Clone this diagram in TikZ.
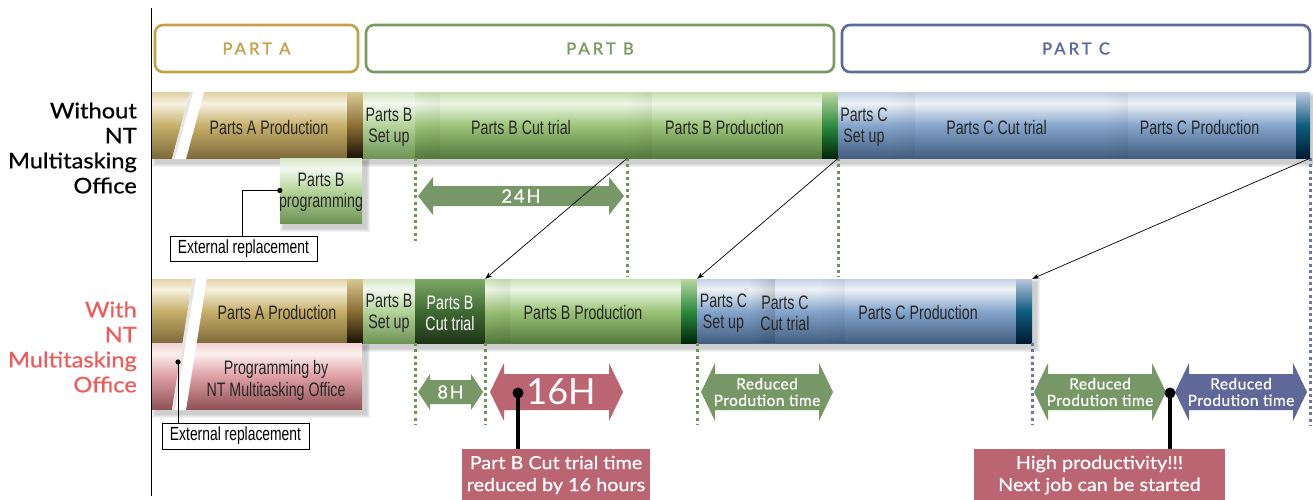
\documentclass[tikz,border=0pt]{standalone}
\usepackage{fontspec}
\setmainfont{Lato}
\newfontfamily\condfont[FakeStretch=0.73]{Liberation Sans}
\newfontfamily\wfont[FakeStretch=1.1, FakeBold=0.6]{Lato}
\newfontfamily\hfont[LetterSpace=19, FakeBold=1.6]{Lato}
\newfontfamily\afont[LetterSpace=3, FakeBold=0.5]{Lato}
\newfontfamily\nfont[LetterSpace=10, FakeBold=0.6]{Lato}
\usetikzlibrary{fadings,arrows.meta}
\definecolor{hgold}{HTML}{C4A24B}
\definecolor{hgreen}{HTML}{7A9A60}
\definecolor{hblue}{HTML}{5C6A9C}
\definecolor{garrow}{HTML}{789767}
\definecolor{barrow}{HTML}{5F6898}
\definecolor{rose}{HTML}{BB6573}
\definecolor{lred}{HTML}{EE5B5B}
\definecolor{gdotc}{HTML}{6E9457}
\definecolor{bdotc}{HTML}{6B73A8}
% gold
\definecolor{goA}{HTML}{7E6A3A}\definecolor{goB}{HTML}{C7B06A}\definecolor{goC}{HTML}{F7F1E0}\definecolor{goD}{HTML}{E2D4A8}
% light green
\definecolor{lgA}{HTML}{6E9456}\definecolor{lgB}{HTML}{B5D39A}\definecolor{lgC}{HTML}{F3F8EE}\definecolor{lgD}{HTML}{D5E6C6}
% main green
\definecolor{mgA}{HTML}{557A3E}\definecolor{mgB}{HTML}{9CC478}\definecolor{mgC}{HTML}{EEF6E6}\definecolor{mgD}{HTML}{C9E0B4}
% blue
\definecolor{blA}{HTML}{435E80}\definecolor{blB}{HTML}{85A5CB}\definecolor{blC}{HTML}{EEF2F8}\definecolor{blD}{HTML}{C4D2E6}
% pink
\definecolor{pkA}{HTML}{8F5256}\definecolor{pkB}{HTML}{DFA0A5}\definecolor{pkC}{HTML}{FCEFEF}\definecolor{pkD}{HTML}{F2D0D0}
% dark ends
\definecolor{dgoA}{HTML}{1A1206}\definecolor{dgoB}{HTML}{8A6E35}\definecolor{dgoC}{HTML}{D9C790}
\definecolor{dgrA}{HTML}{00260A}\definecolor{dgrB}{HTML}{2E8B3E}\definecolor{dgrC}{HTML}{B9D69E}
\definecolor{dblA}{HTML}{001A33}\definecolor{dblB}{HTML}{0F5C7E}\definecolor{dblC}{HTML}{B7C6DE}
\definecolor{dcA}{HTML}{1E3417}\definecolor{dcB}{HTML}{3F6A33}\definecolor{dcC}{HTML}{7FA868}
\pgfdeclareverticalshading{goldsh}{100bp}{color(0bp)=(goA);color(25bp)=(goA);color(50bp)=(goB);color(67bp)=(goC);color(75bp)=(goD);color(100bp)=(goD)}
\pgfdeclareverticalshading{lgreensh}{100bp}{color(0bp)=(lgA);color(25bp)=(lgA);color(50bp)=(lgB);color(67bp)=(lgC);color(75bp)=(lgD);color(100bp)=(lgD)}
\pgfdeclareverticalshading{greensh}{100bp}{color(0bp)=(mgA);color(25bp)=(mgA);color(50bp)=(mgB);color(67bp)=(mgC);color(75bp)=(mgD);color(100bp)=(mgD)}
\pgfdeclareverticalshading{bluesh}{100bp}{color(0bp)=(blA);color(25bp)=(blA);color(50bp)=(blB);color(67bp)=(blC);color(75bp)=(blD);color(100bp)=(blD)}
\pgfdeclareverticalshading{pinksh}{100bp}{color(0bp)=(pkA);color(25bp)=(pkA);color(50bp)=(pkB);color(67bp)=(pkC);color(75bp)=(pkD);color(100bp)=(pkD)}
\pgfdeclareverticalshading{dgoldsh}{100bp}{color(0bp)=(dgoA);color(25bp)=(dgoA);color(50bp)=(dgoB);color(75bp)=(dgoC);color(100bp)=(dgoC)}
\pgfdeclareverticalshading{dgreensh}{100bp}{color(0bp)=(dgrA);color(25bp)=(dgrA);color(50bp)=(dgrB);color(75bp)=(dgrC);color(100bp)=(dgrC)}
\pgfdeclareverticalshading{dbluesh}{100bp}{color(0bp)=(dblA);color(25bp)=(dblA);color(50bp)=(dblB);color(75bp)=(dblC);color(100bp)=(dblC)}
\pgfdeclareverticalshading{dcutsh}{100bp}{color(0bp)=(dcA);color(25bp)=(dcA);color(50bp)=(dcB);color(75bp)=(dcC);color(100bp)=(dcC)}
\tikzset{
  seg/.style={rectangle, inner sep=0pt, shade, shading=#1},
  segtxt/.style={inner sep=0pt, text=black!85, align=center, yshift=-2pt,
    font=\condfont\fontsize{19.5}{21}\selectfont},
  lfade/.style={path picture={\fill[black, opacity=.38, path fading=west]
    (path picture bounding box.south west) rectangle ([xshift=25pt]path picture bounding box.north west);}},
  hdr/.style={draw=#1, line width=2.6pt, rounded corners=8pt, text=#1, inner sep=0pt,
    font=\hfont\fontsize{16.5}{18}\selectfont},
  extbox/.style={draw=black, line width=0.9pt, fill=white, inner sep=0pt,
    font=\condfont\fontsize{19}{20}\selectfont},
  rowlbl/.style={anchor=east, align=right, inner sep=0pt, font=\wfont\fontsize{21.5}{25}\selectfont},
  gdot/.style={gdotc, line width=2.6pt, dash pattern=on 3pt off 3.2pt},
  bdot/.style={bdotc, line width=2.6pt, dash pattern=on 3pt off 3.2pt},
  arrtxt/.style={text=white, align=center, inner sep=0pt, font=\afont\fontsize{15.5}{16.5}\selectfont},
  callout/.style={fill=rose, text=white, align=center, inner sep=0pt,
    font=\wfont\fontsize{18}{22}\selectfont},
  thinarr/.style={-{Stealth[length=7pt,width=5pt]}, line width=0.7pt},
}
\newcommand\dbla[7]{\fill[#1] (#2,#4) -- ({#2+#7},{#4-#6}) -- ({#2+#7},{#4-#5}) -- ({#3-#7},{#4-#5}) -- ({#3-#7},{#4-#6}) -- (#3,#4) -- ({#3-#7},{#4+#6}) -- ({#3-#7},{#4+#5}) -- ({#2+#7},{#4+#5}) -- ({#2+#7},{#4+#6}) -- cycle;}
% \segnode{shading}{name}{x1}{x2}{y1}{y2}{opts}{text}
\newcommand\segnode[8]{\node[seg=#1, minimum width={#4-#3}, minimum height={#6-#5}, #7] (#2) at ({(#3+#4)/2},{(#5+#6)/2}) {};
  \node[segtxt] (#2t) at (#2.center) {#8};}
\newcommand\barshadow[4]{%
  \foreach \k in {0,1,2,3}{\fill[black, opacity=0.05] ({#1+3-\k},{#2+3-\k}) rectangle ({#3+5+\k},{#4+6+\k});}}
\begin{document}
\begin{tikzpicture}[x=1pt, y=-1pt]
\useasboundingbox (0,0) rectangle (1313,500);
% axis
\draw[line width=1pt] (151,8) -- (151,496);
% headers
\node[hdr=hgold, minimum width=203, minimum height=47] (pa) at (256.5,48.5) {PART A};
\node[hdr=hgreen, minimum width=468, minimum height=47] (pb) at (600,48.5) {PART B};
\node[hdr=hblue, minimum width=468, minimum height=47] (pc) at (1076,48.5) {PART C};
% row labels
\node[rowlbl] (lbl1) at (137,148) {Without\\NT\\Multitasking\\Office};
\node[rowlbl, text=lred] (lbl2) at (137,347) {With\\NT\\Multitasking\\Office};
% shadows
\barshadow{152}{93}{1310}{158}
\barshadow{280}{158}{362}{223}
\barshadow{152}{279}{1032}{343}
\barshadow{152}{343}{362}{409}
% ===== Row 1 =====
\segnode{goldsh}{r1a}{152}{347}{93}{158}{}{}
\node[segtxt] (r1atxt) at (269,126) {Parts A Production};
\segnode{dgoldsh}{r1ae}{347}{363}{93}{158}{}{}
\segnode{lgreensh}{r1bs}{363}{415}{93}{158}{}{Parts B\\Set up}
\segnode{greensh}{r1bc}{415}{627}{93}{158}{lfade}{Parts B Cut trial}
\segnode{greensh}{r1bp}{627}{822}{93}{158}{lfade}{Parts B Production}
\segnode{dgreensh}{r1be}{822}{838}{93}{158}{}{}
\segnode{bluesh}{r1cs}{838}{890}{93}{158}{}{Parts C\\Set up}
\segnode{bluesh}{r1cc}{890}{1103}{93}{158}{lfade}{Parts C Cut trial}
\segnode{bluesh}{r1cp}{1103}{1296}{93}{158}{lfade}{Parts C Production}
\segnode{dbluesh}{r1ce}{1296}{1310}{93}{158}{}{}
% slash gap row 1
\fill[white] (190,92) -- (204,92) -- (186,159) -- (172,159) -- cycle;
\fill[black!10] (190,92) -- (193,92) -- (175,159) -- (172,159) -- cycle;
% parts B programming
\segnode{lgreensh}{r1prog}{280}{362}{158}{223}{}{Parts B\\programming}
% external replacement 1
\node[extbox, minimum width=147, minimum height=25] (ext1) at (243.5,248.5) {External replacement};
\draw[line width=0.9pt] (242,0 |- ext1.north) |- (r1prog.west);
\fill (r1prog.west) circle (2.6pt);
% dotted lines row 1
\draw[gdot] (r1bs.south east) -- ++(0,83);
\draw[gdot] (r1bc.south east) -- ++(0,119);
\draw[gdot] (r1be.south east) -- ++(0,119);
\draw[bdot] (r1ce.south east) -- ++(0,267);
% 24H arrow
\dbla{garrow}{418}{624}{196}{10}{19}{15}
\node[arrtxt, font=\nfont\fontsize{18.5}{19}\selectfont] (t24) at (521,196) {24H};
% ===== Row 2 =====
\segnode{goldsh}{r2a}{152}{347}{279}{343}{}{}
\node[segtxt] (r2atxt) at (277,311) {Parts A Production};
\segnode{dgoldsh}{r2ae}{347}{363}{279}{343}{}{}
\segnode{lgreensh}{r2bs}{363}{415}{279}{343}{}{Parts B\\Set up}
\segnode{dcutsh}{r2bc}{415}{485}{279}{343}{}{\textcolor{white}{Parts B}\\\textcolor{white}{Cut trial}}
\segnode{greensh}{r2bp}{485}{681}{279}{343}{lfade}{Parts B Production}
\segnode{dgreensh}{r2be}{681}{697}{279}{343}{}{}
\segnode{bluesh}{r2cs}{697}{750}{279}{343}{}{Parts C\\Set up}
\segnode{bluesh}{r2cc}{750}{820}{279}{343}{lfade}{Parts C\\Cut trial}
\segnode{bluesh}{r2cp}{820}{1016}{279}{343}{lfade}{Parts C Production}
\segnode{dbluesh}{r2ce}{1016}{1032}{279}{343}{}{}
% programming by NT
\segnode{pinksh}{r2prog}{152}{362}{343}{409}{}{}
\node[segtxt, font=\condfont\fontsize{19.5}{22}\selectfont] (r2progtxt) at (276,378) {Programming by\\NT Multitasking Office};
% slash gap row 2
\fill[white] (193,278) -- (207,278) -- (186,410) -- (172,410) -- cycle;
\fill[black!10] (193,278) -- (196,278) -- (175,410) -- (172,410) -- cycle;
% external replacement 2
\node[extbox, minimum width=147, minimum height=26] (ext2) at (235.5,436) {External replacement};
\coordinate (dot2) at (178,362);
\draw[line width=0.9pt] (dot2) -- (dot2 |- ext2.north);
\fill (dot2) circle (2.6pt);
% dotted lines row 2
\draw[gdot] (r2bs.south east) -- ++(0,82);
\draw[gdot] (r2bc.south east) -- ++(0,82);
\draw[gdot] (r2be.south east) -- ++(0,82);
\draw[bdot] (r2ce.south east) -- ++(0,82);
% connectors between rows
\draw[thinarr] (r1bc.south east) -- (r2bc.north east);
\draw[thinarr] (r1be.south east) -- (r2be.north east);
\draw[thinarr] (r1ce.south east) -- (r2ce.north east);
% arrows row 2
\dbla{garrow}{418}{483}{392}{12}{18}{12}
\node[arrtxt, font=\nfont\fontsize{18}{19}\selectfont] (t8) at (450.5,392) {8H};
\dbla{rose}{490}{623}{392}{18}{29}{14}
\node[arrtxt, font=\fontsize{36}{38}\selectfont] (t16) at (561,392) {16H};
\dbla{garrow}{701}{833}{392}{18}{29}{14}
\node[arrtxt] (tr1) at (767,392) {Reduced\\Prodution time};
\dbla{garrow}{1034}{1166}{392}{18}{29}{14}
\node[arrtxt] (tr2) at (1100,392) {Reduced\\Prodution time};
\dbla{barrow}{1175}{1307}{392}{18}{29}{14}
\node[arrtxt] (tr3) at (1241,392) {Reduced\\Prodution time};
% callouts
\node[callout, minimum width=188, minimum height=52] (cb1) at (556,475) {Part B Cut trial time\\reduced by 16 hours};
\coordinate (d16) at (518,393);
\draw[line width=3.5pt] (d16) -- (d16 |- cb1.north);
\fill (d16) circle (5.5pt);
\node[callout, minimum width=251, minimum height=52] (cb2) at (1099.5,475) {High productivity!!!\\Next job can be started};
\coordinate (dhp) at (1170,393);
\draw[line width=3.5pt] (dhp) -- (dhp |- cb2.north);
\fill (dhp) circle (5.5pt);
\end{tikzpicture}
\end{document}
